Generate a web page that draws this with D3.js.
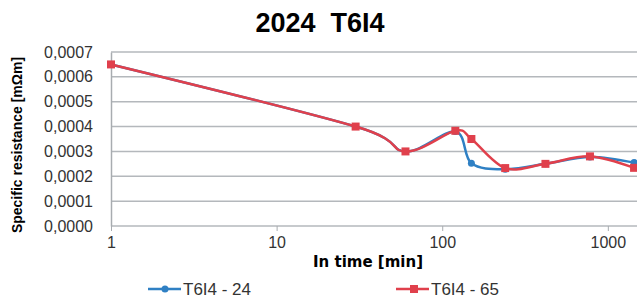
<!DOCTYPE html>
<html><head><meta charset="utf-8">
<script src="https://cdn.jsdelivr.net/npm/d3@7"></script>
<style>body{margin:0;background:#fff}svg{display:block}</style>
</head><body>
<script>
const times = [1, 30, 60, 120, 150, 240, 420, 780, 1440];
const series24 = [0.00065, 0.0004, 0.0003, 0.00038, 0.000252, 0.000228, 0.00025, 0.000278, 0.000255];
const series65 = [0.00065, 0.0004, 0.0003, 0.000383, 0.00035, 0.000233, 0.00025, 0.00028, 0.000234];
const seriesNames = ["T6I4 - 24", "T6I4 - 65"];
const xTicks = [1, 10, 100, 1000];
const yTicks = [0, 0.0001, 0.0002, 0.0003, 0.0004, 0.0005, 0.0006, 0.0007];
const colors = ["#2f80c4", "#e0404c"];

const W = 637, H = 304;
const FONT = "'Liberation Sans', Arial, sans-serif";
const svg = d3.select("body").append("svg").attr("width", W).attr("height", H);
const x = d3.scaleLog().domain([1, 1500]).range([111, 637]);
const y = d3.scaleLinear().domain([0, 0.0007]).range([226, 52]);

svg.append("text").attr("x", 320).attr("y", 32).attr("text-anchor", "middle")
  .style("font-family", FONT).style("white-space", "pre")
  .attr("font-size", 27).attr("font-weight", "bold").text("2024  T6I4");

// grid
svg.append("g").selectAll("line").data(yTicks).join("line")
  .attr("x1", 111).attr("x2", W).attr("y1", d => y(d)).attr("y2", d => y(d))
  .attr("stroke", "#b4b8bc").attr("stroke-width", 1.5);

const yAxis = svg.append("g").attr("transform", "translate(111,0)")
  .call(d3.axisLeft(y).tickValues(yTicks).tickSize(0).tickPadding(18)
    .tickFormat(d => d3.format(".4f")(d).replace(".", ",")));
yAxis.select(".domain").attr("stroke", "#a8acb0").attr("stroke-width", 1.5);
yAxis.selectAll("text").style("font-family", FONT).style("font-size", "16px").attr("fill", "#333");

const xAxis = svg.append("g").attr("transform", "translate(0,226)")
  .call(d3.axisBottom(x).tickValues(xTicks).tickSize(5).tickPadding(6).tickFormat(d3.format("d")));
xAxis.select(".domain").remove();
xAxis.selectAll("line").attr("stroke", "#a8acb0");
xAxis.selectAll("text").style("font-family", FONT).style("font-size", "16px").attr("fill", "#333");

svg.append("text").attr("x", 368).attr("y", 267).attr("text-anchor", "middle")
  .style("font-family", "'DejaVu Sans', Verdana, sans-serif").style("font-size", "15px").style("font-weight", "bold")
  .text("In time [min]");

svg.append("text").attr("transform", "translate(22,145) rotate(-90)").attr("text-anchor", "middle")
  .style("font-family", FONT).style("font-size", "14px").style("font-weight", "bold")
  .text("Specific resistance [mΩm]");

const line = d3.line().x(d => x(d[0])).y(d => y(d[1])).curve(d3.curveCardinal.tension(0));
const data = [series24, series65].map(s => times.map((t, i) => [t, s[i]]));

data.forEach((pts, k) => {
  const g = svg.append("g");
  g.append("path").attr("d", line(pts)).attr("fill", "none").attr("stroke", colors[k]).attr("stroke-width", 2.5);
  if (k === 0) {
    g.selectAll("circle").data(pts).join("circle").attr("cx", d => x(d[0])).attr("cy", d => y(d[1]))
      .attr("r", 3.5).attr("fill", colors[k]);
  } else {
    g.selectAll("rect").data(pts).join("rect").attr("x", d => x(d[0]) - 4).attr("y", d => y(d[1]) - 4)
      .attr("width", 8).attr("height", 8).attr("fill", colors[k]);
  }
});

// legend
const legX = [148, 396];
seriesNames.forEach((n, k) => {
  const g = svg.append("g");
  g.append("line").attr("x1", legX[k]).attr("x2", legX[k] + 33).attr("y1", 289).attr("y2", 289)
    .attr("stroke", colors[k]).attr("stroke-width", 2.5);
  if (k === 0) g.append("circle").attr("cx", legX[k] + 17).attr("cy", 289).attr("r", 3.5).attr("fill", colors[k]);
  else g.append("rect").attr("x", legX[k] + 14).attr("y", 285).attr("width", 8).attr("height", 8).attr("fill", colors[k]);
  g.append("text").attr("x", legX[k] + 35).attr("y", 295).style("font-family", FONT).style("font-size", "17px")
    .attr("fill", "#333").text(n);
});
</script>
</body></html>
